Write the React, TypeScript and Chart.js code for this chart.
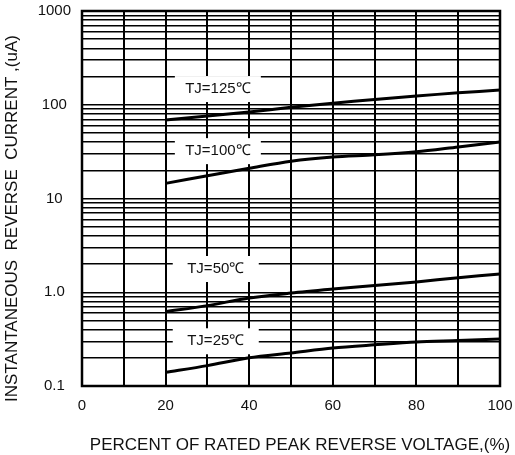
import React, { useEffect, useRef } from "react";
import { Chart, registerables } from "chart.js";

Chart.register(...registerables);

// ---- data ----
const voltagePct = [20, 30, 40, 50, 60, 70, 80, 90, 100];
const tj125 = [68.7, 76, 83.7, 94, 104, 114, 124, 134, 143.6];
const tj100 = [14.5, 17.5, 21, 25, 27.7, 29.2, 31.5, 35.5, 40];
const tj50 = [0.62, 0.72, 0.87, 0.98, 1.08, 1.18, 1.29, 1.43, 1.57];
const tj25 = [0.14, 0.165, 0.2, 0.225, 0.254, 0.275, 0.295, 0.305, 0.317];

const seriesLabels = ["TJ=125℃", "TJ=100℃", "TJ=50℃", "TJ=25℃"];
const labelAtX = [32.5, 32.5, 32, 32];
const labelAtY = [147, 32, 1.77, 0.3];

const xGridValues = [0, 10, 20, 30, 40, 50, 60, 70, 80, 90, 100];
const xLabelValues = [0, 20, 40, 60, 80, 100];
const yDecades = [0.1, 1, 10, 100];
const yMultipliers = [1, 2, 3, 4, 5, 6, 7, 8, 9];
const yMax = 1000;
const yLabelValues = [0.1, 1, 10, 100, 1000];
const yLabelTexts = ["0.1", "1.0", "10", "100", "1000"];

const xTitle = "PERCENT OF RATED PEAK REVERSE VOLTAGE,(%)";
const yTitle = "INSTANTANEOUS  REVERSE  CURRENT ,(uA)";

const FONT = '"Liberation Sans", Arial, sans-serif';

const yGridValues: number[] = [];
yDecades.forEach((d) => yMultipliers.forEach((m) => yGridValues.push(+(d * m).toPrecision(6))));
yGridValues.push(yMax);

const series = [tj125, tj100, tj50, tj25];

const zeroPad = (s: any) => {
  s.paddingTop = 0;
  s.paddingBottom = 0;
  s.paddingLeft = 0;
  s.paddingRight = 0;
};

const labelBoxes = {
  id: "labelBoxes",
  beforeDatasetsDraw(chart: any) {
    const { ctx, scales, chartArea } = chart;
    const x = scales.x;
    const y = scales.y;
    ctx.save();
    ctx.font = `15px ${FONT}`;
    ctx.textAlign = "center";
    ctx.textBaseline = "middle";
    seriesLabels.forEach((t, i) => {
      const px = x.getPixelForValue(labelAtX[i]);
      const py = y.getPixelForValue(labelAtY[i]);
      ctx.fillStyle = "#ffffff";
      ctx.fillRect(px - 43, py - 13, 86, 26);
      ctx.fillStyle = "#111111";
      ctx.fillText(t, px, py);
    });
    ctx.strokeStyle = "#000";
    ctx.lineWidth = 2.5;
    ctx.strokeRect(chartArea.left, chartArea.top, chartArea.right - chartArea.left, chartArea.bottom - chartArea.top);
    ctx.restore();
  },
  afterDraw(chart: any) {
    const { ctx, chartArea } = chart;
    ctx.save();
    ctx.font = `17px ${FONT}`;
    ctx.fillStyle = "#111";
    ctx.textAlign = "center";
    ctx.textBaseline = "middle";
    ctx.fillText(xTitle, (chartArea.left + chartArea.right) / 2 + 9, chart.height - 10);
    ctx.translate(12, (chartArea.top + chartArea.bottom) / 2 + 20);
    ctx.rotate(-Math.PI / 2);
    ctx.fillText(yTitle, 0, 0);
    ctx.restore();
  },
};

export default function App() {
  const ref = useRef<HTMLCanvasElement | null>(null);
  useEffect(() => {
    if (!ref.current) return;
    Chart.defaults.font.family = FONT;
    Chart.defaults.color = "#111";
    const chart = new Chart(ref.current, {
      type: "line",
      data: {
        datasets: series.map((s, i) => ({
          label: seriesLabels[i],
          data: voltagePct.map((v, j) => ({ x: v, y: s[j] })),
          borderColor: "#000",
          borderWidth: 3,
          pointRadius: 0,
          tension: 0.3,
          fill: false,
        })),
      },
      options: {
        responsive: false,
        animation: false,
        layout: { padding: { top: 11, right: 15, left: 0, bottom: 0 } },
        plugins: { legend: { display: false }, tooltip: { enabled: false } },
        scales: {
          x: {
            type: "linear",
            min: 0,
            max: 100,
            afterFit: (s: any) => {
              s.height = 69;
              zeroPad(s);
            },
            afterBuildTicks: (s: any) => {
              s.ticks = xGridValues.map((v) => ({ value: v }));
            },
            ticks: {
              autoSkip: false,
              maxRotation: 0,
              padding: 11,
              font: { size: 15 },
              color: "#111",
              callback: (v: any) => (xLabelValues.includes(Number(v)) ? String(v) : ""),
            },
            grid: { color: "#000", lineWidth: 2, drawTicks: false },
            border: { display: false },
            title: { display: false },
          },
          y: {
            type: "logarithmic",
            min: 0.1,
            max: yMax,
            afterFit: (s: any) => {
              s.width = 82;
              zeroPad(s);
            },
            afterBuildTicks: (s: any) => {
              s.ticks = yGridValues.map((v) => ({ value: v }));
            },
            ticks: {
              autoSkip: false,
              padding: 11,
              crossAlign: "center",
              font: { size: 15 },
              color: "#111",
              callback: (v: any) => {
                const idx = yLabelValues.findIndex((l) => Math.abs(l - Number(v)) < 1e-9 * Math.max(1, l));
                return idx >= 0 ? yLabelTexts[idx] : "";
              },
            },
            grid: { color: "#000", lineWidth: 1.5, drawTicks: false },
            border: { display: false },
            title: { display: false },
          },
        },
      },
      plugins: [labelBoxes],
    });
    return () => chart.destroy();
  }, []);
  return (
    <div style={{ position: "absolute", left: 0, top: 0, width: 515, height: 455, background: "#fff" }}>
      <canvas ref={ref} width={515} height={455} />
    </div>
  );
}
